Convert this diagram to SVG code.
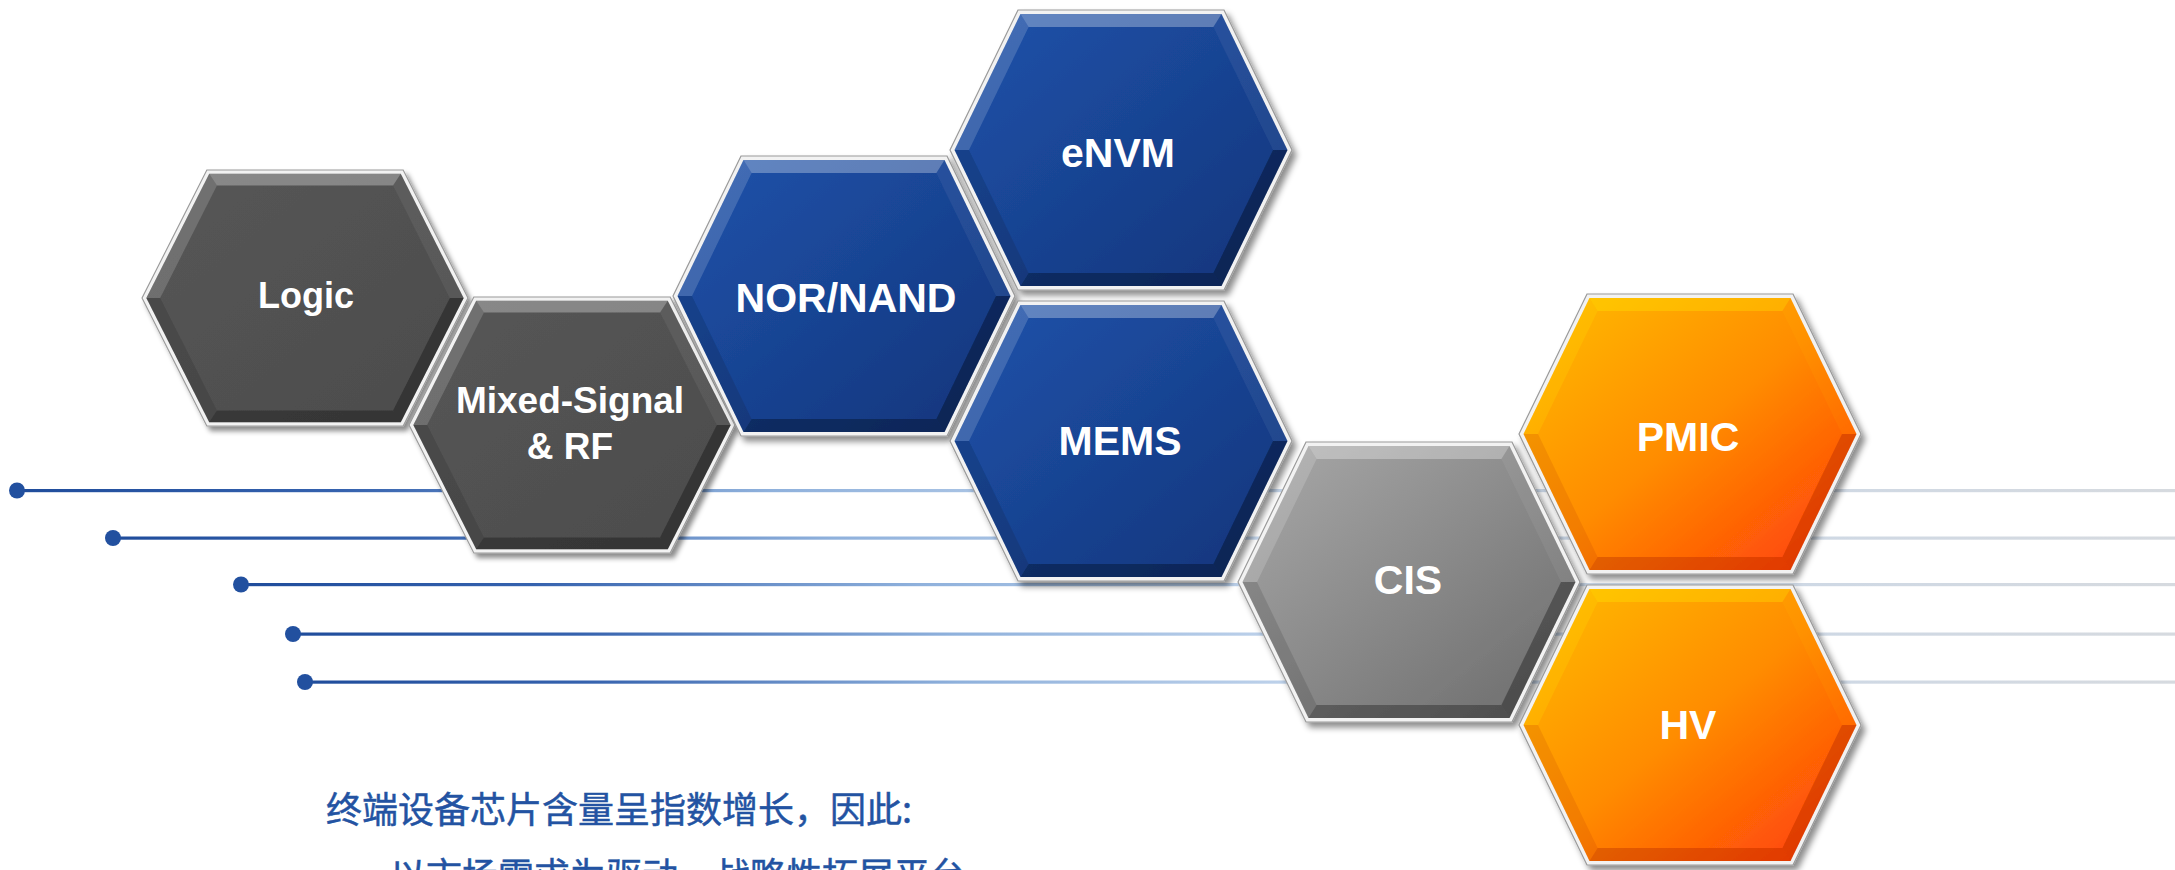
<svg xmlns="http://www.w3.org/2000/svg" xmlns:xlink="http://www.w3.org/1999/xlink" width="2175" height="870" viewBox="0 0 2175 870">
<defs>
<style>
.lbl{font-family:"Liberation Sans",Arial,sans-serif;font-weight:bold;fill:#ffffff;text-anchor:middle;}
.big{font-size:41px;}
.sm{font-size:36px;}
.ms{font-size:37px;}
.cn{font-family:"Noto Sans CJK SC","Noto Sans CJK JP",sans-serif;font-size:36px;fill:#2353a2;stroke:#2353a2;stroke-width:0.5px;}
.dot{fill:#22509f;}
.ln{fill:url(#lineGrad);}
.hi{fill:var(--hi,#ffffff);}
.lo{fill:var(--lo,#000000);}
</style>
<linearGradient id="lineGrad" x1="0" y1="0" x2="1" y2="0">
<stop offset="0" stop-color="#1f4c9b"/>
<stop offset="0.15" stop-color="#3562ae"/>
<stop offset="0.35" stop-color="#8fb1dc"/>
<stop offset="0.55" stop-color="#c4d6ec"/>
<stop offset="1" stop-color="#d6dadf"/>
</linearGradient>
<linearGradient id="gDark" x1="0" y1="0" x2="1" y2="1">
<stop offset="0" stop-color="#565656"/>
<stop offset="1" stop-color="#4c4c4c"/>
</linearGradient>
<linearGradient id="gBlue" x1="0" y1="0" x2="1" y2="1">
<stop offset="0" stop-color="#1f53ab"/>
<stop offset="1" stop-color="#12347a"/>
</linearGradient>
<linearGradient id="gGray" x1="0" y1="0" x2="1" y2="1">
<stop offset="0" stop-color="#a9a9a9"/>
<stop offset="1" stop-color="#6b6b6b"/>
</linearGradient>
<linearGradient id="gOrange" x1="0" y1="0" x2="1" y2="1">
<stop offset="0" stop-color="#ffbd00"/>
<stop offset="0.5" stop-color="#ff8c00"/>
<stop offset="1" stop-color="#ff380c"/>
</linearGradient>
<filter id="sh" x="-15%" y="-15%" width="135%" height="135%">
<feDropShadow dx="4" dy="5" stdDeviation="3" flood-color="#000000" flood-opacity="0.45"/>
</filter>
<g id="hex">
<polygon points="-171,0 -103,-140 103,-140 171,0 103,140 -103,140" fill="#f2f2f2" stroke="#9a9a9a" stroke-width="1.2"/>
<polygon points="-166.5,0 -100.5,-136 100.5,-136 166.5,0 100.5,136 -100.5,136"/>
<polygon class="hi" points="-100.5,-136 100.5,-136 92.4,-123 -92.4,-123" fill-opacity="0.3"/>
<polygon class="hi" points="100.5,-136 166.5,0 152,0 92.4,-123" fill-opacity="0.06"/>
<polygon class="lo" points="166.5,0 100.5,136 92.4,123 152,0" fill-opacity="0.32"/>
<polygon class="lo" points="100.5,136 -100.5,136 -92.4,123 92.4,123" fill-opacity="0.3"/>
<polygon class="lo" points="-100.5,136 -166.5,0 -152,0 -92.4,123" fill-opacity="0.12"/>
<polygon class="hi" points="-166.5,0 -100.5,-136 -92.4,-123 -152,0" fill-opacity="0.16"/>
</g>
</defs>
<rect x="0" y="0" width="2175" height="870" fill="#ffffff"/>
<g id="lines">
<rect class="ln" x="17" y="489" width="2158" height="3.2"/>
<rect class="ln" x="113" y="536.5" width="2062" height="3.2"/>
<rect class="ln" x="241" y="583" width="1934" height="3.2"/>
<rect class="ln" x="293" y="632.5" width="1882" height="3.2"/>
<rect class="ln" x="305" y="680.5" width="1870" height="3.2"/>
<circle class="dot" cx="17" cy="490.5" r="8"/>
<circle class="dot" cx="113" cy="538" r="8"/>
<circle class="dot" cx="241" cy="584.5" r="8"/>
<circle class="dot" cx="293" cy="634" r="8"/>
<circle class="dot" cx="305" cy="682" r="8"/>
</g>
<g id="node-logic">
<use xlink:href="#hex" transform="translate(305,298) scale(0.953,0.914)" fill="url(#gDark)" filter="url(#sh)"/>
<text class="lbl sm" x="306" y="308">Logic</text>
</g>
<g id="node-mixed">
<use xlink:href="#hex" transform="translate(572,425) scale(0.953,0.914)" fill="url(#gDark)" filter="url(#sh)"/>
<text class="lbl ms" x="570" y="413">Mixed-Signal</text>
<text class="lbl ms" x="570" y="459">&amp; RF</text>
</g>
<g id="node-nor">
<use xlink:href="#hex" transform="translate(844,296)" fill="url(#gBlue)" filter="url(#sh)"/>
<text class="lbl big" x="846" y="312">NOR/NAND</text>
</g>
<g id="node-envm">
<use xlink:href="#hex" transform="translate(1121,150)" fill="url(#gBlue)" filter="url(#sh)"/>
<text class="lbl big" x="1118" y="167">eNVM</text>
</g>
<g id="node-mems">
<use xlink:href="#hex" transform="translate(1121,441)" fill="url(#gBlue)" filter="url(#sh)"/>
<text class="lbl big" x="1120" y="455">MEMS</text>
</g>
<g id="node-cis">
<use xlink:href="#hex" transform="translate(1409,582)" fill="url(#gGray)" filter="url(#sh)"/>
<text class="lbl big" x="1408" y="594">CIS</text>
</g>
<g id="node-pmic">
<use xlink:href="#hex" transform="translate(1690,434)" fill="url(#gOrange)" filter="url(#sh)" style="--hi:#fff000;--lo:#a01800"/>
<text class="lbl big" x="1688" y="451">PMIC</text>
</g>
<g id="node-hv">
<use xlink:href="#hex" transform="translate(1690,725)" fill="url(#gOrange)" filter="url(#sh)" style="--hi:#fff000;--lo:#a01800"/>
<text class="lbl big" x="1688" y="739">HV</text>
</g>
<g id="caption">
<text class="cn" x="326" y="823">终端设备芯片含量呈指数增长，因此:</text>
<text class="cn" x="390" y="889">以市场需求为驱动，战略性拓展平台</text>
</g>
</svg>
